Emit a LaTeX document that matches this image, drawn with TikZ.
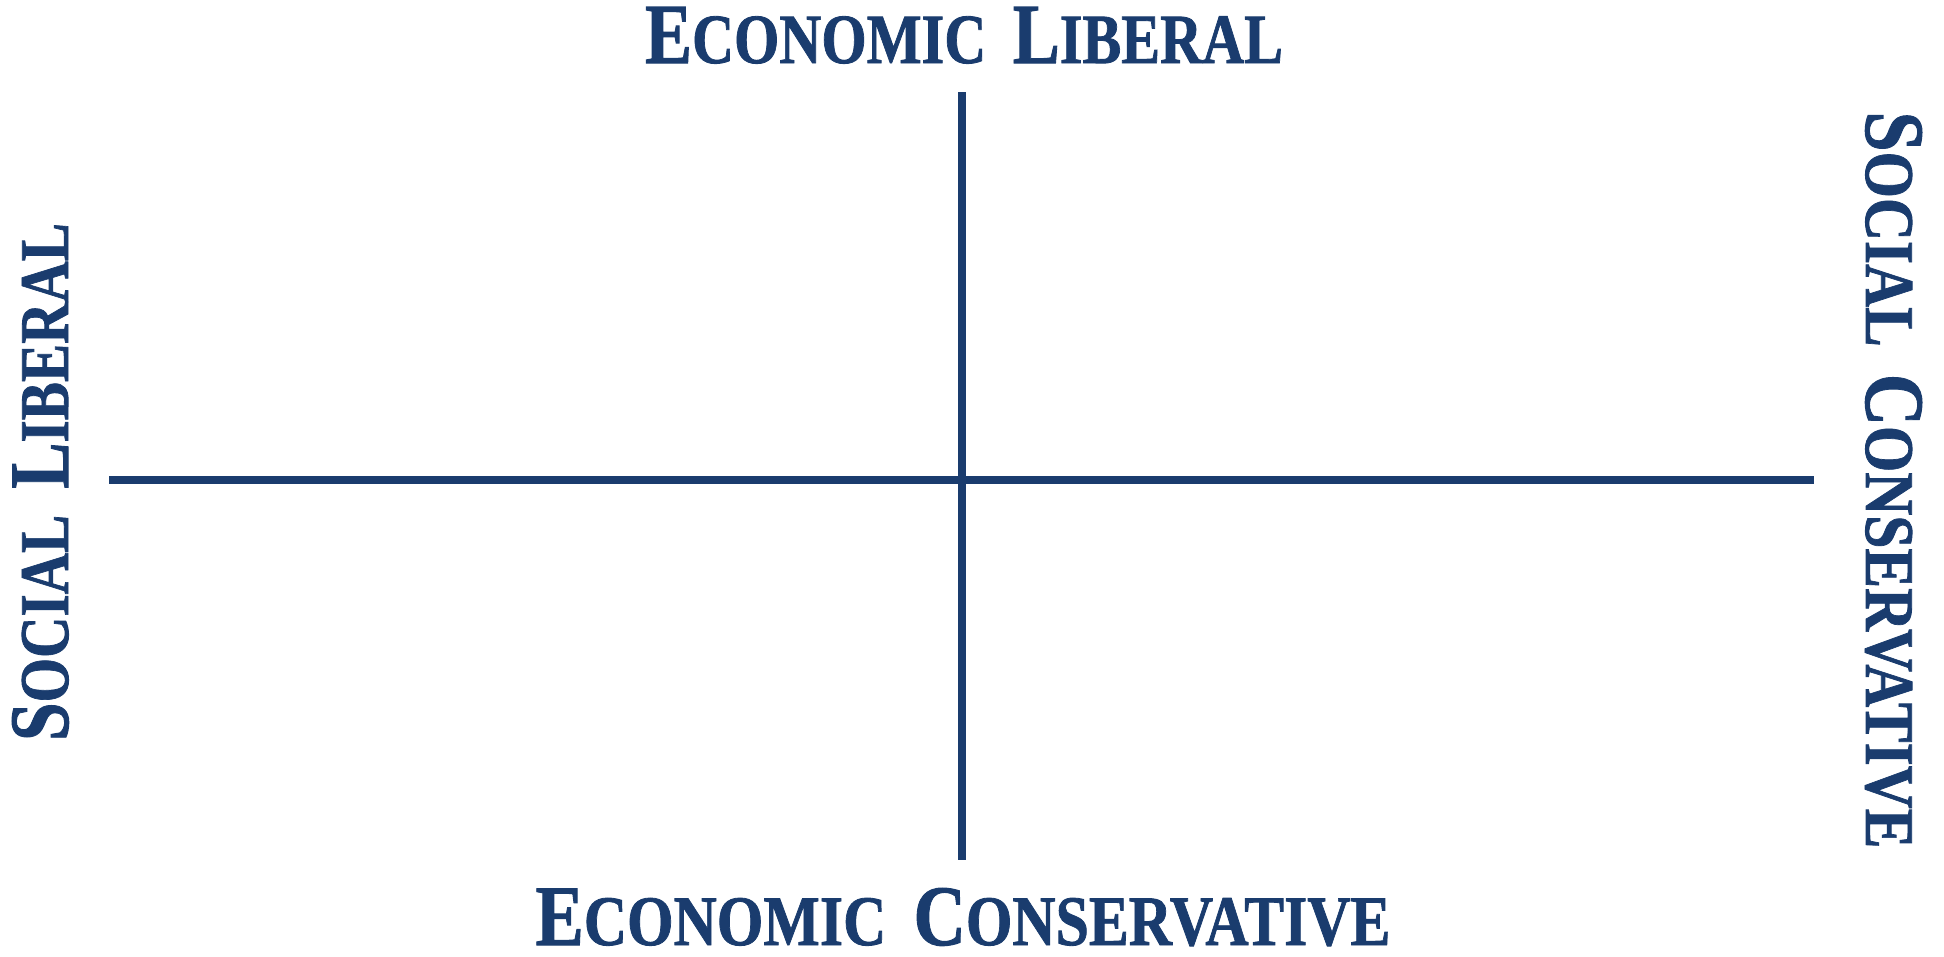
\documentclass[tikz,border=0pt]{standalone}
\usepackage{fontspec}
\usepackage{graphicx}
\setmainfont{Liberation Serif}[BoldFeatures={FakeBold=1.2}]
\definecolor{navy}{RGB}{26,60,110}
\newcommand{\capbig}[1]{{\fontsize{80}{80}\selectfont #1}}
\newcommand{\capsml}[1]{{\fontsize{66}{66}\selectfont #1}}
\newcommand{\wgap}{\hspace{30pt}}
\tikzset{
  axis/.style={draw=navy, line width=8pt},
  lab/.style={inner sep=0pt, outer sep=0pt, text=navy, font=\bfseries, anchor=base}
}
\begin{document}
\begin{tikzpicture}[x=1pt,y=-1pt]
\useasboundingbox (0,0) rectangle (1944,956);
\coordinate (L) at (109,480);
\coordinate (R) at (1814,480);
\coordinate (T) at (962,92);
\coordinate (B) at (962,860);
\draw[axis] (L) -- (R);
\draw[axis] (T) -- (B);
\node[lab] (top) at (964,63) {\resizebox{638pt}{56pt}{\capbig{E}\capsml{CONOMIC}\wgap\capbig{L}\capsml{IBERAL}}};
\node[lab] (bot) at (963,945) {\resizebox{855pt}{57pt}{\capbig{E}\capsml{CONOMIC}\wgap\capbig{C}\capsml{ONSERVATIVE}}};
\node[lab, rotate=90] (left) at (68,482) {\resizebox{518pt}{56pt}{\capbig{S}\capsml{OCIAL}\wgap\capbig{L}\capsml{IBERAL}}};
\node[lab, rotate=-90] (right) at (1866,480) {\resizebox{737pt}{56pt}{\capbig{S}\capsml{OCIAL}\wgap\capbig{C}\capsml{ONSERVATIVE}}};
\end{tikzpicture}
\end{document}
